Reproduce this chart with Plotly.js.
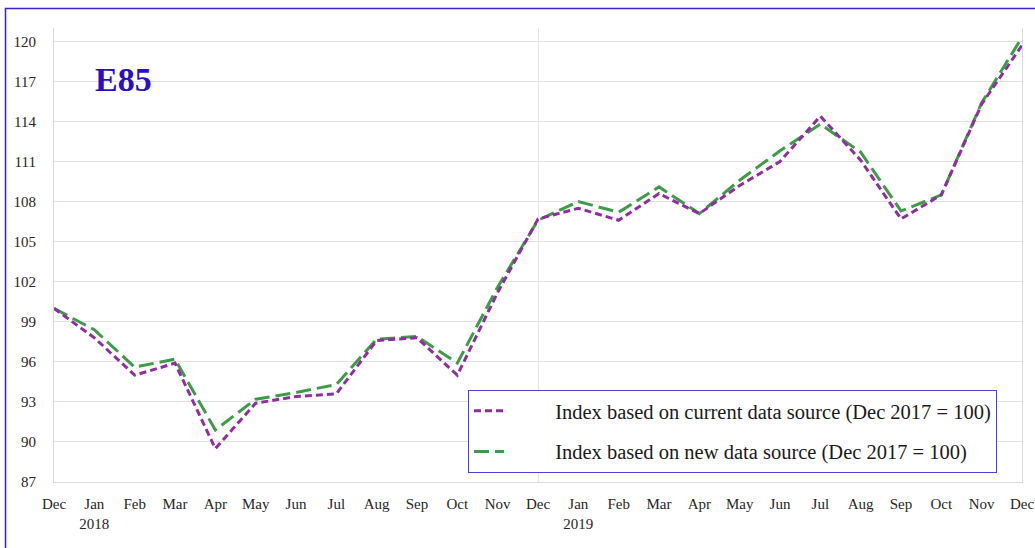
<!DOCTYPE html>
<html>
<head>
<meta charset="utf-8">
<script src="https://cdn.plot.ly/plotly-3.0.1.min.js"></script>
<style>html,body{margin:0;padding:0;background:#fff;}#chart{width:1035px;height:548px;}</style>
</head>
<body>
<div id="chart"></div>
<script>
const months = ["Dec","Jan","Feb","Mar","Apr","May","Jun","Jul","Aug","Sep","Oct","Nov",
                "Dec","Jan","Feb","Mar","Apr","May","Jun","Jul","Aug","Sep","Oct","Nov","Dec"];
const yearLabels = {1: "2018", 13: "2019"};
const currentSource = [100, 97.8, 95.0, 95.9, 89.5, 92.9, 93.4, 93.6, 97.6, 97.8, 95.0, 101.2,
                       106.7, 107.5, 106.6, 108.6, 107.1, 109.2, 111.0, 114.4, 111.1, 106.7, 108.5, 115.3, 119.7];
const newSource = [100, 98.4, 95.6, 96.2, 90.9, 93.2, 93.7, 94.3, 97.7, 97.9, 95.9, 101.6,
                   106.6, 108.0, 107.2, 109.1, 107.1, 109.6, 111.8, 113.8, 111.7, 107.3, 108.5, 115.4, 120.3];
const seriesNames = ["Index based on current data source (Dec 2017 = 100)",
                     "Index based on new data source (Dec 2017 = 100)"];
const chartTitle = "E85";
const yTicks = [87, 90, 93, 96, 99, 102, 105, 108, 111, 114, 117, 120];

const idx = months.map((m, i) => i);
const tickText = months.map((m, i) => yearLabels[i] ? m + "<br>" + yearLabels[i] : m);

const W = 1035, H = 548, L = 54, R = 13, T = 28, B = 66;
const pw = W - L - R, ph = H - T - B;
const px = v => (v - L) / pw;
const py = v => 1 - (v - T) / ph;
const pad = "\u00a0".repeat(9);

const serif = "Liberation Serif, Times New Roman, serif";
const traces = [
  {x: idx, y: newSource, name: pad + seriesNames[1], mode: "lines", legendgroup: "b", legendrank: 2,
   line: {color: "#3e9b48", width: 3, dash: "15px,6px"}},
  {x: idx, y: currentSource, name: pad + seriesNames[0], mode: "lines", legendgroup: "a", legendrank: 1,
   line: {color: "#8e2ea0", width: 3, dash: "7px,4px"}}
];

const layout = {
  width: W, height: H,
  margin: {l: L, r: R, t: T, b: B, pad: 0},
  paper_bgcolor: "#ffffff", plot_bgcolor: "#ffffff",
  font: {family: serif, size: 15, color: "#262626"},
  showlegend: true,
  legend: {x: px(468), y: py(390), xanchor: "left", yanchor: "top",
           bordercolor: "#4a3fd6", borderwidth: 1, bgcolor: "#ffffff",
           font: {family: serif, size: 20.5, color: "#1a1a1a"},
           traceorder: "grouped", tracegroupgap: 11},
  xaxis: {range: [0, 24], tickmode: "array", tickvals: idx, ticktext: tickText,
          showgrid: false, zeroline: false, showline: true, linecolor: "#d9d9d9", linewidth: 1,
          ticks: "", ticklabelstandoff: 8, tickfont: {family: serif, size: 15, color: "#262626"},
          minor: {tickmode: "linear", tick0: 0, dtick: 12, showgrid: true, gridcolor: "#e3e3e3", gridwidth: 1, ticks: ""}},
  yaxis: {range: [87, 121], tickmode: "array", tickvals: yTicks,
          showgrid: true, gridcolor: "#e3e3e3", gridwidth: 1, zeroline: false,
          showline: true, linecolor: "#d9d9d9", linewidth: 1, mirror: true,
          ticks: "", ticklabelstandoff: 14, tickfont: {family: serif, size: 15, color: "#262626"}},
  annotations: [{text: "<b>" + chartTitle + "</b>", xref: "paper", yref: "paper",
                 x: px(93), y: py(79), xanchor: "left", yanchor: "middle", showarrow: false,
                 font: {family: serif, size: 34, color: "#2b10bf"}}],
  shapes: [{type: "rect", xref: "paper", yref: "paper", x0: px(5.5), x1: px(1045), y0: py(8.5), y1: py(560),
            line: {color: "#3a1fc6", width: 1.5}, fillcolor: "rgba(0,0,0,0)", layer: "above"}]
};

Plotly.newPlot("chart", traces, layout, {displayModeBar: false, staticPlot: true});
</script>
</body>
</html>
